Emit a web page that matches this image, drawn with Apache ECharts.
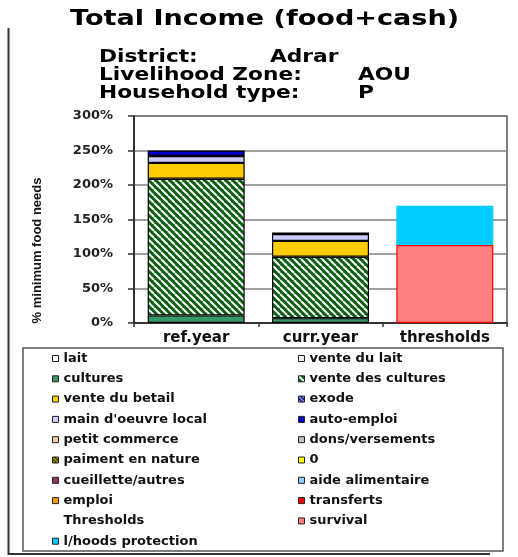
<!DOCTYPE html>
<html>
<head>
<meta charset="utf-8">
<script src="https://cdn.jsdelivr.net/npm/echarts@6/dist/echarts.min.js"></script>
<style>
  html, body { margin: 0; padding: 0; background: #fff; }
  #income { width: 518px; height: 557px; }
</style>
</head>
<body>
<div id="income"></div>
<script>
// categories and tick labels
var categories = ["ref.year", "curr.year", "thresholds"];
var yTicks = [0, 50, 100, 150, 200, 250, 300];

// % of minimum food needs, per category
var lait = [0, 0, 0];
var venteDuLait = [0, 0, 0];
var cultures = [11, 7, 0];
var venteDesCultures = [198, 89, 0];
var venteDuBetail = [23, 23, 0];
var exode = [0, 0, 0];
var mainOeuvre = [10, 10, 0];
var autoEmploi = [8, 2, 0];
var petitCommerce = [0, 0, 0];
var dons = [0, 0, 0];
var paiment = [0, 0, 0];
var zero = [0, 0, 0];
var cueillette = [0, 0, 0];
var aide = [0, 0, 0];
var emploi = [0, 0, 0];
var transferts = [0, 0, 0];
var thresholds = [0, 0, 0];
var survival = [0, 0, 113];
var lhoods = [0, 0, 57];

// little pattern tiles for the hatched fills
function hatch(bg, fg, size, lw) {
  var c = document.createElement("canvas");
  c.width = size; c.height = size;
  var ctx = c.getContext("2d");
  ctx.fillStyle = bg;
  ctx.fillRect(0, 0, size, size);
  ctx.strokeStyle = fg;
  ctx.lineWidth = lw;
  [-size, 0, size].forEach(function (o) {
    ctx.beginPath();
    ctx.moveTo(o, 0);
    ctx.lineTo(o + size, size);
    ctx.stroke();
  });
  return { image: c, repeat: "repeat" };
}

var chart = echarts.init(document.getElementById("income"));

var seriesDefs = [
  ["lait", lait, "#ffffff"],
  ["vente du lait", venteDuLait, "#eeeeee"],
  ["cultures", cultures, "#339966"],
  ["vente des cultures", venteDesCultures, hatch("#0b5e12", "#ffffff", 7, 2)],
  ["vente du betail", venteDuBetail, "#ffcc00"],
  ["exode", exode, hatch("#1b1ba0", "#ffffff", 4, 1)],
  ["main d'oeuvre local", mainOeuvre, "#ccccff"],
  ["auto-emploi", autoEmploi, "#0000cc"],
  ["petit commerce", petitCommerce, "#ffcc99"],
  ["dons/versements", dons, "#c0c0c0"],
  ["paiment en nature", paiment, hatch("#333300", "#ccdd00", 4, 1.2)],
  ["0", zero, "#ffff00"],
  ["cueillette/autres", cueillette, "#993366"],
  ["aide alimentaire", aide, "#99ccff"],
  ["emploi", emploi, "#ff9900"],
  ["transferts", transferts, "#ff0000"],
  ["Thresholds", thresholds, "rgba(0,0,0,0)"],
  ["survival", survival, "#ff8080"],
  ["l/hoods protection", lhoods, "#00ccff"]
];

var series = seriesDefs.map(function (d) {
  var border = "#000";
  if (d[0] === "survival") border = "#ff0000";
  if (d[0] === "l/hoods protection") border = "#00ccff";
  if (d[0] === "Thresholds") border = "rgba(0,0,0,0)";
  return {
    name: d[0],
    type: "bar",
    stack: "total",
    barCategoryGap: "22%",
    data: d[1].map(function (v) { return v === 0 ? null : v; }),
    itemStyle: { color: d[2], borderColor: border, borderWidth: 1.2 }
  };
});

var col1 = ["lait", "cultures", "vente du betail", "main d'oeuvre local", "petit commerce",
  "paiment en nature", "cueillette/autres", "emploi", "Thresholds", "l/hoods protection"];
var col2 = ["vente du lait", "vente des cultures", "exode", "auto-emploi", "dons/versements",
  "0", "aide alimentaire", "transferts", "survival"];

var legendBase = {
  orient: "vertical",
  top: 352,
  height: 215,
  padding: 0,
  itemWidth: 6,
  itemHeight: 6,
  itemGap: 7.3,
  icon: "rect",
  selectedMode: false,
  itemStyle: { borderColor: "#222", borderWidth: 1 },
  textStyle: {
    fontFamily: "DejaVu Sans",
    fontWeight: "bold",
    fontSize: 13,
    lineHeight: 12,
    color: "#111"
  }
};

var font = "DejaVu Sans";

function label(text, x, y, size, sx) {
  return {
    type: "text", x: x, y: y, scaleX: sx,
    style: {
      text: text, fontFamily: font, fontWeight: "bold", fontSize: size,
      fill: "#000", verticalAlign: "middle"
    }
  };
}

var option = {
  animation: false,
  grid: {
    left: 134, right: 11, top: 116, bottom: 234,
    show: true, borderColor: "#555", borderWidth: 1.5
  },
  xAxis: {
    type: "category",
    data: categories,
    axisLine: { lineStyle: { color: "#333", width: 2 } },
    axisTick: { show: true, length: 4, lineStyle: { color: "#333", width: 1.5 } },
    axisLabel: {
      margin: 8,
      fontFamily: "DejaVu Sans",
      fontWeight: "bold",
      fontSize: 15,
      color: "#111"
    }
  },
  yAxis: {
    type: "value",
    min: yTicks[0],
    max: yTicks[yTicks.length - 1],
    interval: yTicks[1] - yTicks[0],
    name: "% minimum food needs",
    nameLocation: "middle",
    nameGap: 90,
    nameTextStyle: {
      fontFamily: "Liberation Sans",
      fontWeight: "bold",
      fontSize: 13,
      color: "#111",
      padding: [0, 62, 0, 0]
    },
    axisLine: { show: true, lineStyle: { color: "#333", width: 2 } },
    axisTick: { show: true, length: 6, lineStyle: { color: "#333", width: 1.5 } },
    axisLabel: {
      margin: 21,
      fontFamily: "DejaVu Sans",
      fontWeight: "bold",
      fontSize: 13,
      color: "#222",
      formatter: "{value}%"
    },
    splitLine: { lineStyle: { color: "#808080", width: 1.5 } }
  },
  legend: [
    Object.assign({}, legendBase, { left: 52, data: col1.map(function (n) {
      return n === "Thresholds" ? { name: n, itemStyle: { borderColor: "rgba(0,0,0,0)" } } : n;
    }) }),
    Object.assign({}, legendBase, { left: 298, data: col2 })
  ],
  graphic: [
    label("Total Income (food+cash)", 70, 19.5, 21, 1.29),
    label("District:", 99, 57, 17.5, 1.24),
    label("Adrar", 270, 57, 17.5, 1.24),
    label("Livelihood Zone:", 99, 75.5, 17.5, 1.24),
    label("AOU", 358, 75.5, 17.5, 1.24),
    label("Household type:", 99, 93.7, 17.5, 1.24),
    label("P", 358, 93.7, 17.5, 1.24),
    // outer frame and legend box
    { type: "polyline", shape: { points: [[8.5, 28], [8.5, 554], [490, 554]] },
      style: { stroke: "#333", lineWidth: 2, fill: null } },
    { type: "rect", shape: { x: 23, y: 348, width: 480, height: 203 },
      style: { stroke: "#555", lineWidth: 1.5, fill: null } }
  ],
  series: series
};

chart.setOption(option);
</script>
</body>
</html>
